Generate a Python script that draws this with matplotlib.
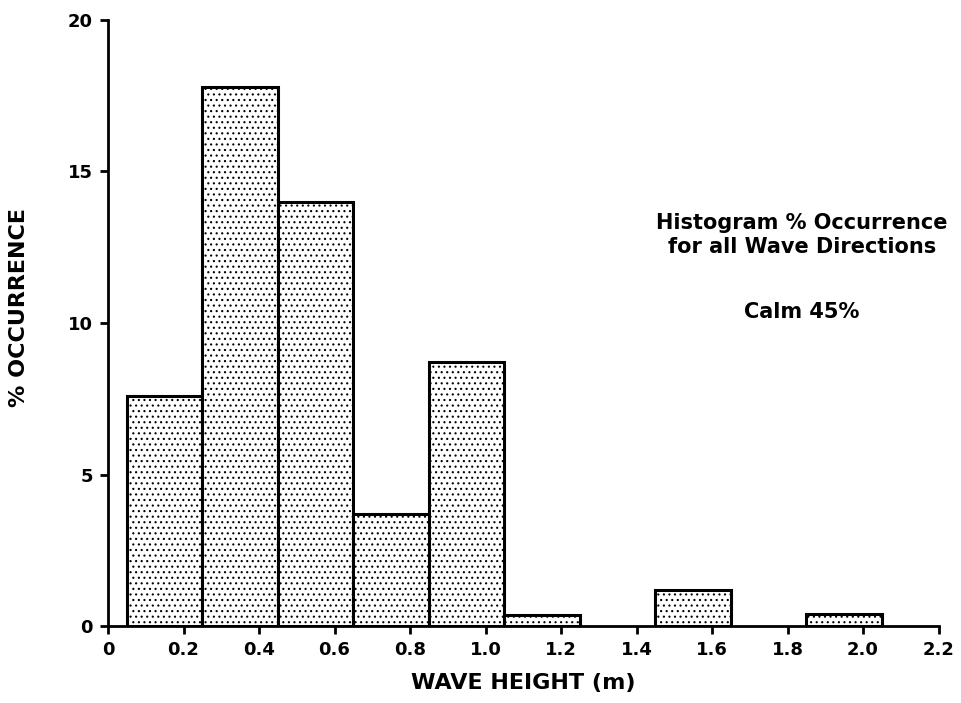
import numpy as np
import matplotlib
matplotlib.use("Agg")
from matplotlib import pyplot as plt

# wave height classes (left edge, m) and % occurrence
bin_left = [0.05, 0.25, 0.45, 0.65, 0.85, 1.05, 1.25, 1.45, 1.65, 1.85]
occurrence = [7.6, 17.8, 14.0, 3.7, 8.7, 0.35, 0.0, 1.2, 0.0, 0.4]
bin_width = 0.2

x_ticks = [0, 0.2, 0.4, 0.6, 0.8, 1.0, 1.2, 1.4, 1.6, 1.8, 2.0, 2.2]
x_ticklabels = ["0", "0.2", "0.4", "0.6", "0.8", "1.0", "1.2", "1.4", "1.6", "1.8", "2.0", "2.2"]
y_ticks = [0, 5, 10, 15, 20]

note_lines = ["Histogram % Occurrence", "for all Wave Directions", "Calm 45%"]

plt.rcParams["font.family"] = ["DejaVu Sans"]
plt.rcParams["font.weight"] = "bold"
plt.rcParams["hatch.linewidth"] = 0.8

fig = plt.figure(figsize=(9.62, 7.03), dpi=100)
ax = fig.add_axes([0.1123, 0.1095, 0.8633, 0.8621])

for x0, h in zip(bin_left, occurrence):
    if h <= 0:
        continue
    ax.bar(x0, h, width=bin_width, align="edge", facecolor="white",
           edgecolor="black", linewidth=2.2, hatch="...", zorder=2)

ax.set_xlim(0, 2.2)
ax.set_ylim(0, 20)
ax.set_xticks(x_ticks)
ax.set_xticklabels(x_ticklabels)
ax.set_yticks(y_ticks)

for side in ["top", "right"]:
    ax.spines[side].set_visible(False)
for side in ["left", "bottom"]:
    ax.spines[side].set_linewidth(2)

ax.tick_params(axis="both", direction="out", length=6, width=2,
               labelsize=13, pad=5)
for lab in ax.get_xticklabels() + ax.get_yticklabels():
    lab.set_fontweight("bold")

ax.set_xlabel("WAVE HEIGHT (m)", fontsize=16, fontweight="bold")
ax.xaxis.set_label_coords(0.5, -0.078)
ax.set_ylabel("% OCCURRENCE", fontsize=16, fontweight="bold")
ax.yaxis.set_label_coords(-0.095, 0.525)

# note on the right (the scan cuts it at the edge; kept whole here)
note_x = 802 / 962
fig.text(note_x, 1 - 223 / 703, note_lines[0], fontsize=15,
         fontweight="bold", va="center", ha="center")
fig.text(note_x, 1 - 247 / 703, note_lines[1], fontsize=15,
         fontweight="bold", va="center", ha="center")
fig.text(note_x, 1 - 312 / 703, note_lines[2], fontsize=15,
         fontweight="bold", va="center", ha="center")

fig.savefig("out.png", dpi=100)
